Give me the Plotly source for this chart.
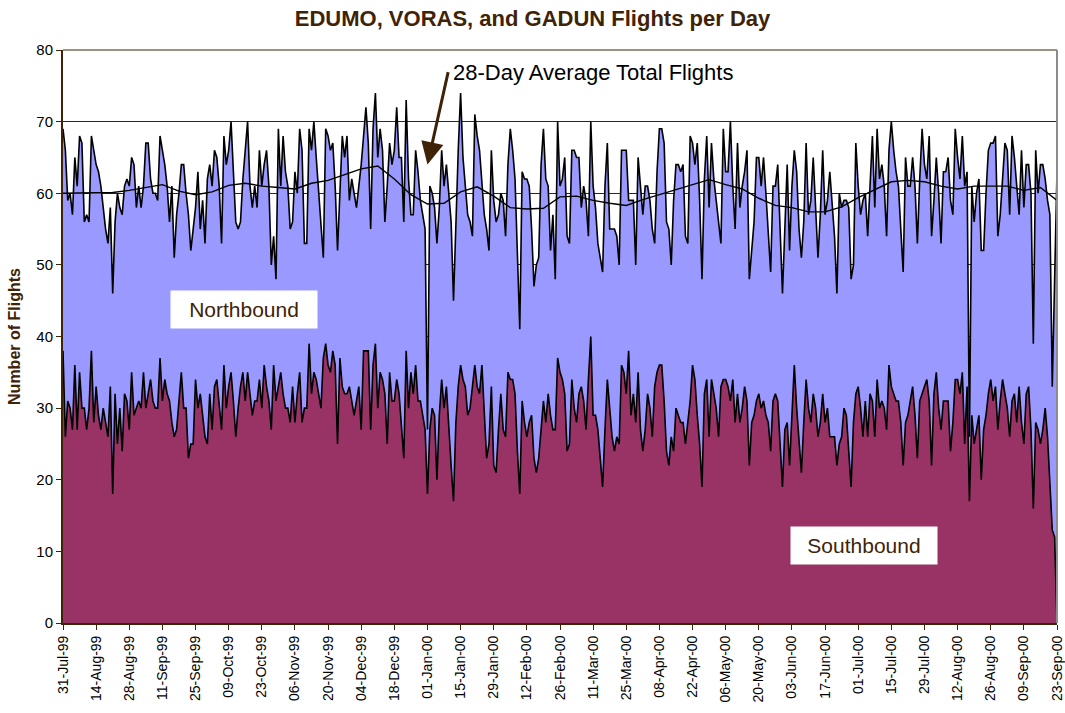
import pandas as pd
import plotly.graph_objects as go

# ---- data ----
start_date = "1999-07-31"
n_days = 421
dates = pd.date_range(start_date, periods=n_days, freq="D")

total_flights = [
    69, 66, 59, 60, 57, 65, 61, 68, 67, 56, 57, 56, 68, 66, 64, 63, 61, 58, 55, 53,
    58, 46, 56, 60, 58, 57, 61, 62, 61, 65, 64, 58, 61, 58, 61, 67, 67, 62, 60, 60,
    59, 68, 66, 64, 61, 56, 61, 51, 57, 60, 64, 64, 60, 57, 52, 55, 58, 63, 55, 59,
    53, 62, 64, 61, 66, 65, 61, 53, 68, 64,
    66, 70, 63, 56, 55, 56, 62, 66, 70, 61, 58, 61, 58, 66, 61, 64, 66, 61, 50, 54,
    48, 69, 61, 68, 63, 61, 55, 56, 63, 60, 69, 66, 53, 53, 69, 66, 70, 65, 60, 55,
    51, 69, 68, 66, 67, 61, 52, 60, 68, 65, 68, 59, 62, 60, 58, 61, 64, 68, 72, 67,
    55, 69, 74, 65, 69, 66, 56, 61, 67, 64,
    66, 72, 65, 65, 56, 73, 62, 57, 57, 66, 63, 59, 57, 55, 27, 61, 60, 58, 53, 58,
    66, 61, 64, 60, 56, 45, 56, 66, 74, 65, 61, 57, 56, 54, 71, 68, 66, 62, 57, 55,
    52, 66, 59, 56, 57, 60, 59, 54, 64, 69, 66, 62, 51, 41, 63, 62, 62, 61, 55, 47,
    50, 51, 64, 69, 62, 61, 52, 57, 48, 70,
    61, 62, 65, 54, 53, 66, 66, 65, 65, 58, 61, 59, 54, 70, 61, 58, 53, 51, 49, 61,
    67, 55, 55, 55, 54, 50, 66, 66, 66, 59, 59, 59, 50, 65, 61, 57, 61, 61, 59, 55,
    53, 63, 69, 69, 67, 56, 55, 50, 59, 64, 64, 63, 64, 54, 53, 68, 67, 64, 67, 59,
    48, 62, 68, 58, 67, 62, 59, 56, 53, 69,
    63, 63, 70, 61, 55, 67, 58, 61, 63, 66, 48, 52, 56, 65, 65, 61, 65, 60, 54, 49,
    61, 61, 64, 54, 46, 55, 64, 52, 61, 66, 63, 55, 51, 56, 67, 57, 59, 65, 57, 51,
    57, 66, 57, 59, 63, 58, 54, 46, 60, 58, 59, 59, 58, 48, 50, 67, 61, 57, 59, 60,
    54, 61, 68, 58, 69, 62, 64, 61, 54, 66,
    70, 66, 63, 61, 55, 49, 65, 61, 61, 65, 61, 53, 62, 69, 64, 62, 68, 54, 59, 65,
    60, 53, 63, 63, 65, 59, 57, 69, 65, 62, 68, 61, 63, 26, 61, 56, 60, 62, 52, 52,
    60, 66, 67, 67, 68, 54, 57, 62, 67, 66, 57, 68, 65, 61, 57, 66, 58, 64, 64, 60,
    39, 66, 60, 64, 64, 62, 59, 57, 33, 48, 63,
]

southbound = [
    38, 26, 31, 30, 27, 36, 27, 35, 30, 30, 27, 30, 38, 28, 33, 29, 27, 30, 28, 26,
    33, 18, 32, 25, 30, 24, 32, 31, 27, 35, 29, 30, 31, 30, 35, 30, 32, 34, 31, 30,
    30, 37, 31, 34, 32, 31, 28, 26, 27, 31, 35, 30, 30, 23, 25, 25, 34, 30, 32, 29,
    26, 25, 32, 27, 33, 34, 30, 27, 36, 30,
    33, 35, 31, 26, 30, 33, 35, 31, 35, 32, 29, 31, 31, 34, 30, 36, 33, 31, 27, 36,
    31, 33, 35, 32, 30, 30, 28, 33, 28, 32, 35, 28, 30, 30, 39, 32, 35, 34, 32, 30,
    37, 39, 36, 35, 38, 36, 25, 37, 33, 32, 32, 33, 31, 29, 31, 33, 27, 38, 38, 38,
    27, 36, 39, 30, 35, 34, 32, 25, 35, 31,
    31, 34, 32, 27, 23, 38, 30, 35, 32, 36, 31, 31, 29, 27, 18, 27, 30, 29, 20, 29,
    34, 30, 33, 27, 22, 17, 28, 33, 36, 34, 33, 29, 30, 33, 36, 33, 32, 36, 30, 23,
    25, 33, 22, 21, 27, 32, 27, 26, 35, 34, 34, 32, 24, 18, 31, 28, 26, 28, 29, 23,
    21, 23, 27, 31, 28, 32, 29, 27, 27, 37,
    35, 34, 32, 24, 25, 34, 30, 28, 32, 33, 31, 27, 34, 40, 29, 29, 27, 23, 19, 27,
    34, 30, 26, 24, 26, 25, 36, 35, 32, 38, 29, 32, 28, 35, 27, 24, 27, 32, 30, 26,
    33, 35, 36, 36, 31, 24, 22, 26, 24, 30, 29, 28, 28, 25, 28, 31, 36, 34, 29, 25,
    19, 32, 34, 26, 34, 32, 30, 26, 33, 34,
    34, 33, 31, 34, 28, 32, 28, 30, 33, 31, 22, 28, 29, 31, 32, 30, 31, 29, 28, 24,
    31, 32, 31, 25, 19, 27, 28, 22, 30, 36, 30, 25, 21, 28, 34, 30, 28, 32, 30, 26,
    28, 32, 28, 30, 26, 26, 26, 22, 25, 26, 30, 29, 24, 19, 28, 32, 33, 30, 26, 31,
    26, 32, 31, 26, 34, 30, 31, 30, 27, 36,
    33, 32, 31, 31, 28, 22, 28, 29, 31, 33, 29, 23, 31, 32, 33, 34, 31, 22, 32, 35,
    30, 27, 31, 31, 31, 24, 28, 34, 34, 32, 35, 25, 33, 17, 29, 25, 27, 29, 20, 27,
    29, 32, 34, 31, 33, 27, 31, 34, 32, 30, 26, 31, 32, 28, 33, 28, 25, 32, 33, 27,
    16, 28, 27, 25, 27, 30, 26, 20, 13, 12, 0,
]

# 28-day average of total flights
avg_day_step = 7
avg_28day = [
    60.0, 60.0, 60.0, 60.1, 60.4, 60.8, 61.2, 60.3, 59.8, 60.2,
    61.1, 61.4, 61.0, 60.8, 60.6, 61.4, 61.8, 62.6, 63.4, 63.8,
    62.0, 59.8, 58.5, 58.6, 60.2, 60.9, 59.6, 58.0, 57.8, 57.9,
    59.5, 59.6, 59.0, 58.6, 58.3, 59.1, 59.8, 60.5, 61.1, 61.9,
    61.2, 60.6, 59.3, 58.3, 58.0, 57.4, 57.4, 58.1, 59.4, 60.5,
    61.6, 61.8, 61.6, 61.0, 60.6, 61.0, 61.0, 61.0, 60.4, 60.8,
    59.0,
]

tick_step_days = 14
y_ticks = [0, 10, 20, 30, 40, 50, 60, 70, 80]

# ---- styles ----
BLUE = "#9999FF"
MAROON = "#993366"
BROWN = "#3f2306"
FONT = "Liberation Sans, Arial, sans-serif"

avg_dates = dates[::avg_day_step]
tick_dates = dates[::tick_step_days]
tick_text = [d.strftime("%d-%b-%y") for d in tick_dates]

fig = go.Figure()

fig.add_trace(go.Scatter(
    x=dates, y=total_flights, mode="lines", name="Total",
    line=dict(color="black", width=1.6), fill="tozeroy", fillcolor=BLUE,
))
fig.add_trace(go.Scatter(
    x=dates, y=southbound, mode="lines", name="Southbound",
    line=dict(color="black", width=1.6), fill="tozeroy", fillcolor=MAROON,
))
fig.add_trace(go.Scatter(
    x=avg_dates, y=avg_28day, mode="lines", name="28-Day Average",
    line=dict(color="black", width=1.4),
))

fig.update_layout(
    width=1065, height=713,
    margin=dict(l=63, r=8, t=50, b=90, autoexpand=False),
    paper_bgcolor="white", plot_bgcolor="white",
    showlegend=False,
    font=dict(family=FONT, color="black"),
    title=dict(
        text="<b>EDUMO, VORAS, and GADUN Flights per Day</b>",
        x=0.5, xanchor="center", y=0.975, yanchor="middle",
        font=dict(family=FONT, size=22, color=BROWN),
    ),
)

fig.update_xaxes(
    range=[dates[0], dates[-1]], automargin=False,
    tickmode="array", tickvals=tick_dates, ticktext=tick_text,
    tickangle=-90, tickfont=dict(family=FONT, size=14, color="black"),
    ticklabeloverflow="allow",
    ticks="outside", ticklen=5, tickcolor=BROWN, tickwidth=1,
    showgrid=False, showline=True, linecolor=BROWN, linewidth=2,
    zeroline=False,
)
fig.update_yaxes(
    range=[0, 80], automargin=False, tickmode="array", tickvals=y_ticks,
    tickfont=dict(family=FONT, size=15, color="black"),
    ticks="outside", ticklen=5, tickcolor=BROWN, tickwidth=1,
    showgrid=True, gridcolor=BROWN, gridwidth=1,
    showline=True, linecolor=BROWN, linewidth=2, zeroline=False,
    title=dict(text="<b>Number of Flights</b>", standoff=12,
               font=dict(family=FONT, size=16, color=BROWN)),
)

# top and right border of plot area
fig.add_shape(type="line", xref="x domain", yref="y domain",
              x0=0, x1=1, y0=1, y1=1, line=dict(color=BROWN, width=1))
fig.add_shape(type="line", xref="x domain", yref="y domain",
              x0=1, x1=1, y0=0, y1=1, line=dict(color="#8c8c8c", width=2))

# labels
fig.add_annotation(
    xref="paper", yref="paper", x=0.1816, y=0.5463,
    xanchor="center", yanchor="middle",
    text="Northbound", showarrow=False, bgcolor="white",
    width=144, height=35, font=dict(family=FONT, size=21, color=BROWN),
)
fig.add_annotation(
    xref="paper", yref="paper", x=0.8054, y=0.1361,
    xanchor="center", yanchor="middle",
    text="Southbound", showarrow=False, bgcolor="white",
    width=144, height=35, font=dict(family=FONT, size=21, color=BROWN),
)
fig.add_annotation(
    xref="paper", yref="paper", x=0.5336, y=0.9616,
    xanchor="center", yanchor="middle",
    text="28-Day Average Total Flights", showarrow=False,
    font=dict(family=FONT, size=22, color="black"),
)
# arrow pointing at the average line
fig.add_annotation(
    x=dates[154], y=64, xref="x", yref="y",
    ax=21, ay=-94, axref="pixel", ayref="pixel",
    text="", showarrow=True, arrowhead=2, arrowsize=1.5, arrowwidth=3,
    arrowcolor=BROWN,
)

fig.write_html(
    "out.html",
    config={"displayModeBar": False},
    post_script="document.body.style.margin='0px';",
)
